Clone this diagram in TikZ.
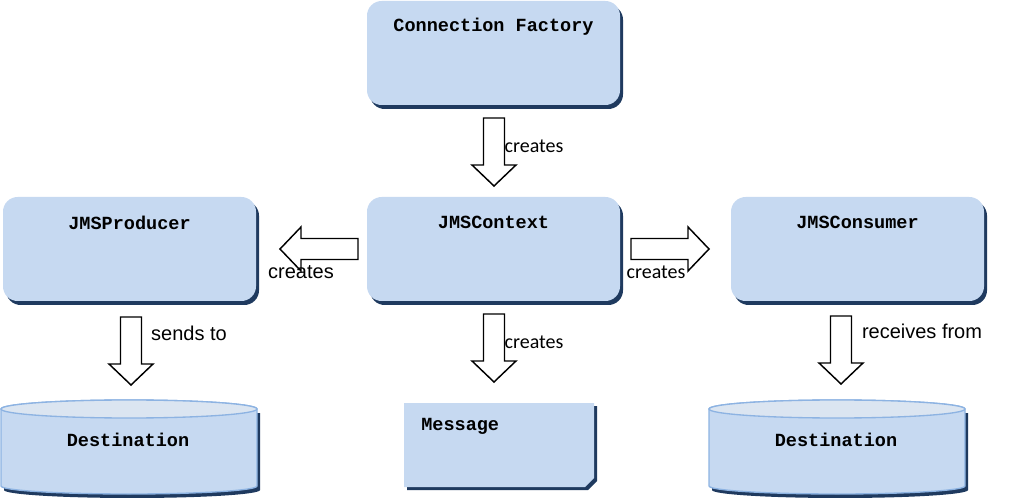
\documentclass[tikz,border=0pt]{standalone}
\usepackage{fontspec}
\newfontfamily\monof{Liberation Mono}
\newfontfamily\calf{Carlito}
\newfontfamily\arif{Liberation Sans}
\usetikzlibrary{shadows}
\definecolor{boxfill}{HTML}{C6D9F1}
\definecolor{shadowc}{HTML}{1F3A5F}
\definecolor{cylline}{HTML}{8DB3E2}
\definecolor{cyltop}{HTML}{DBE5F1}
\def\px{0.75pt}
\newcommand\drawcyl[1]{%
  \begin{scope}[shift={(3,4)}]
    \fill[shadowc] (#1-128,409) -- (#1-128,486) arc[start angle=180,end angle=360,x radius=128*\px,y radius=8*\px] -- (#1+128,409) -- cycle;
  \end{scope}
  \path[fill=boxfill, draw=cylline, line width=1pt] (#1-128,409) -- (#1-128,486) arc[start angle=180,end angle=360,x radius=128*\px,y radius=8*\px] -- (#1+128,409) arc[start angle=0,end angle=180,x radius=128*\px,y radius=9*\px] -- cycle;
  \path[fill=cyltop, draw=cylline, line width=1pt] (#1,409) ellipse[x radius=128*\px, y radius=9*\px];
}
% block arrow pointing along local +x, length #1
\newcommand\blkpath[1]{(0,-10.5) -- (#1-21,-10.5) -- (#1-21,-22) -- (#1,0) -- (#1-21,22) -- (#1-21,10.5) -- (0,10.5) -- cycle}
\begin{document}
\begin{tikzpicture}[x=0.75pt,y=-0.75pt,
  box/.style={rectangle, rounded corners=11pt, fill=boxfill, draw=none, minimum width=253*\px, minimum height=104*\px, inner sep=0pt, drop shadow={shadow xshift=3*\px, shadow yshift=-4*\px, fill=shadowc, opacity=1}},
  title/.style={font=\monof\bfseries\fontsize{13.9}{16}\selectfont},
  blkline/.style={draw=black, line width=1.1pt, fill=white, line join=miter},
  lblc/.style={font=\calf\fontsize{15}{18}\selectfont, inner sep=0pt},
  lbla/.style={font=\arif\fontsize{15}{18}\selectfont, inner sep=0pt},
]
\useasboundingbox (0,0) rectangle (1023,498);

% boxes
\node[box, label={[title, name=cft, anchor=center, yshift=-26*\px]north:Connection Factory}] (cf) at (493.5,53) {};
\node[box, label={[title, name=prodt, anchor=center, yshift=-26*\px]north:JMSProducer}] (prod) at (129.5,249) {};
\node[box, label={[title, name=ctxt, anchor=center, yshift=-26*\px]north:JMSContext}] (ctx) at (493.5,249) {};
\node[box, label={[title, name=const, anchor=center, yshift=-26*\px]north:JMSConsumer}] (cons) at (857.5,249) {};

% message
\fill[shadowc] (407,406) -- (597,406) -- (597,481) -- (588,490) -- (407,490) -- cycle;
\fill[boxfill] (404,403) -- (594,403) -- (594,478) -- (585,487) -- (404,487) -- cycle;
\node[title, anchor=west, inner sep=0pt] (msg) at (421,426) {Message};

% destinations
\drawcyl{129}
\drawcyl{837}
\node[title] (dst1) at (128,440) {Destination};
\node[title] (dst2) at (836,440) {Destination};

% block arrows
\coordinate (a1) at (494,118);
\coordinate (a2) at (358,249);
\coordinate (a3) at (631,249);
\coordinate (a4) at (494,314);
\coordinate (a5) at (131,317);
\coordinate (a6) at (841,316);
\draw[blkline, shift={(a1)}, rotate=-90] \blkpath{68};
\draw[blkline, shift={(a2)}, rotate=180] \blkpath{78};
\draw[blkline, shift={(a3)}] \blkpath{78};
\draw[blkline, shift={(a4)}, rotate=-90] \blkpath{68};
\draw[blkline, shift={(a5)}, rotate=-90] \blkpath{68};
\draw[blkline, shift={(a6)}, rotate=-90] \blkpath{68};

% labels
\node[lblc] (l1) at (534,146) {creates};
\node[lbla] (l2) at (301,272) {creates};
\node[lblc] (l3) at (656,272) {creates};
\node[lblc] (l4) at (534,342) {creates};
\node[lbla] (l5) at (189,333) {sends to};
\node[lbla] (l6) at (922,331) {receives from};
\end{tikzpicture}
\end{document}
